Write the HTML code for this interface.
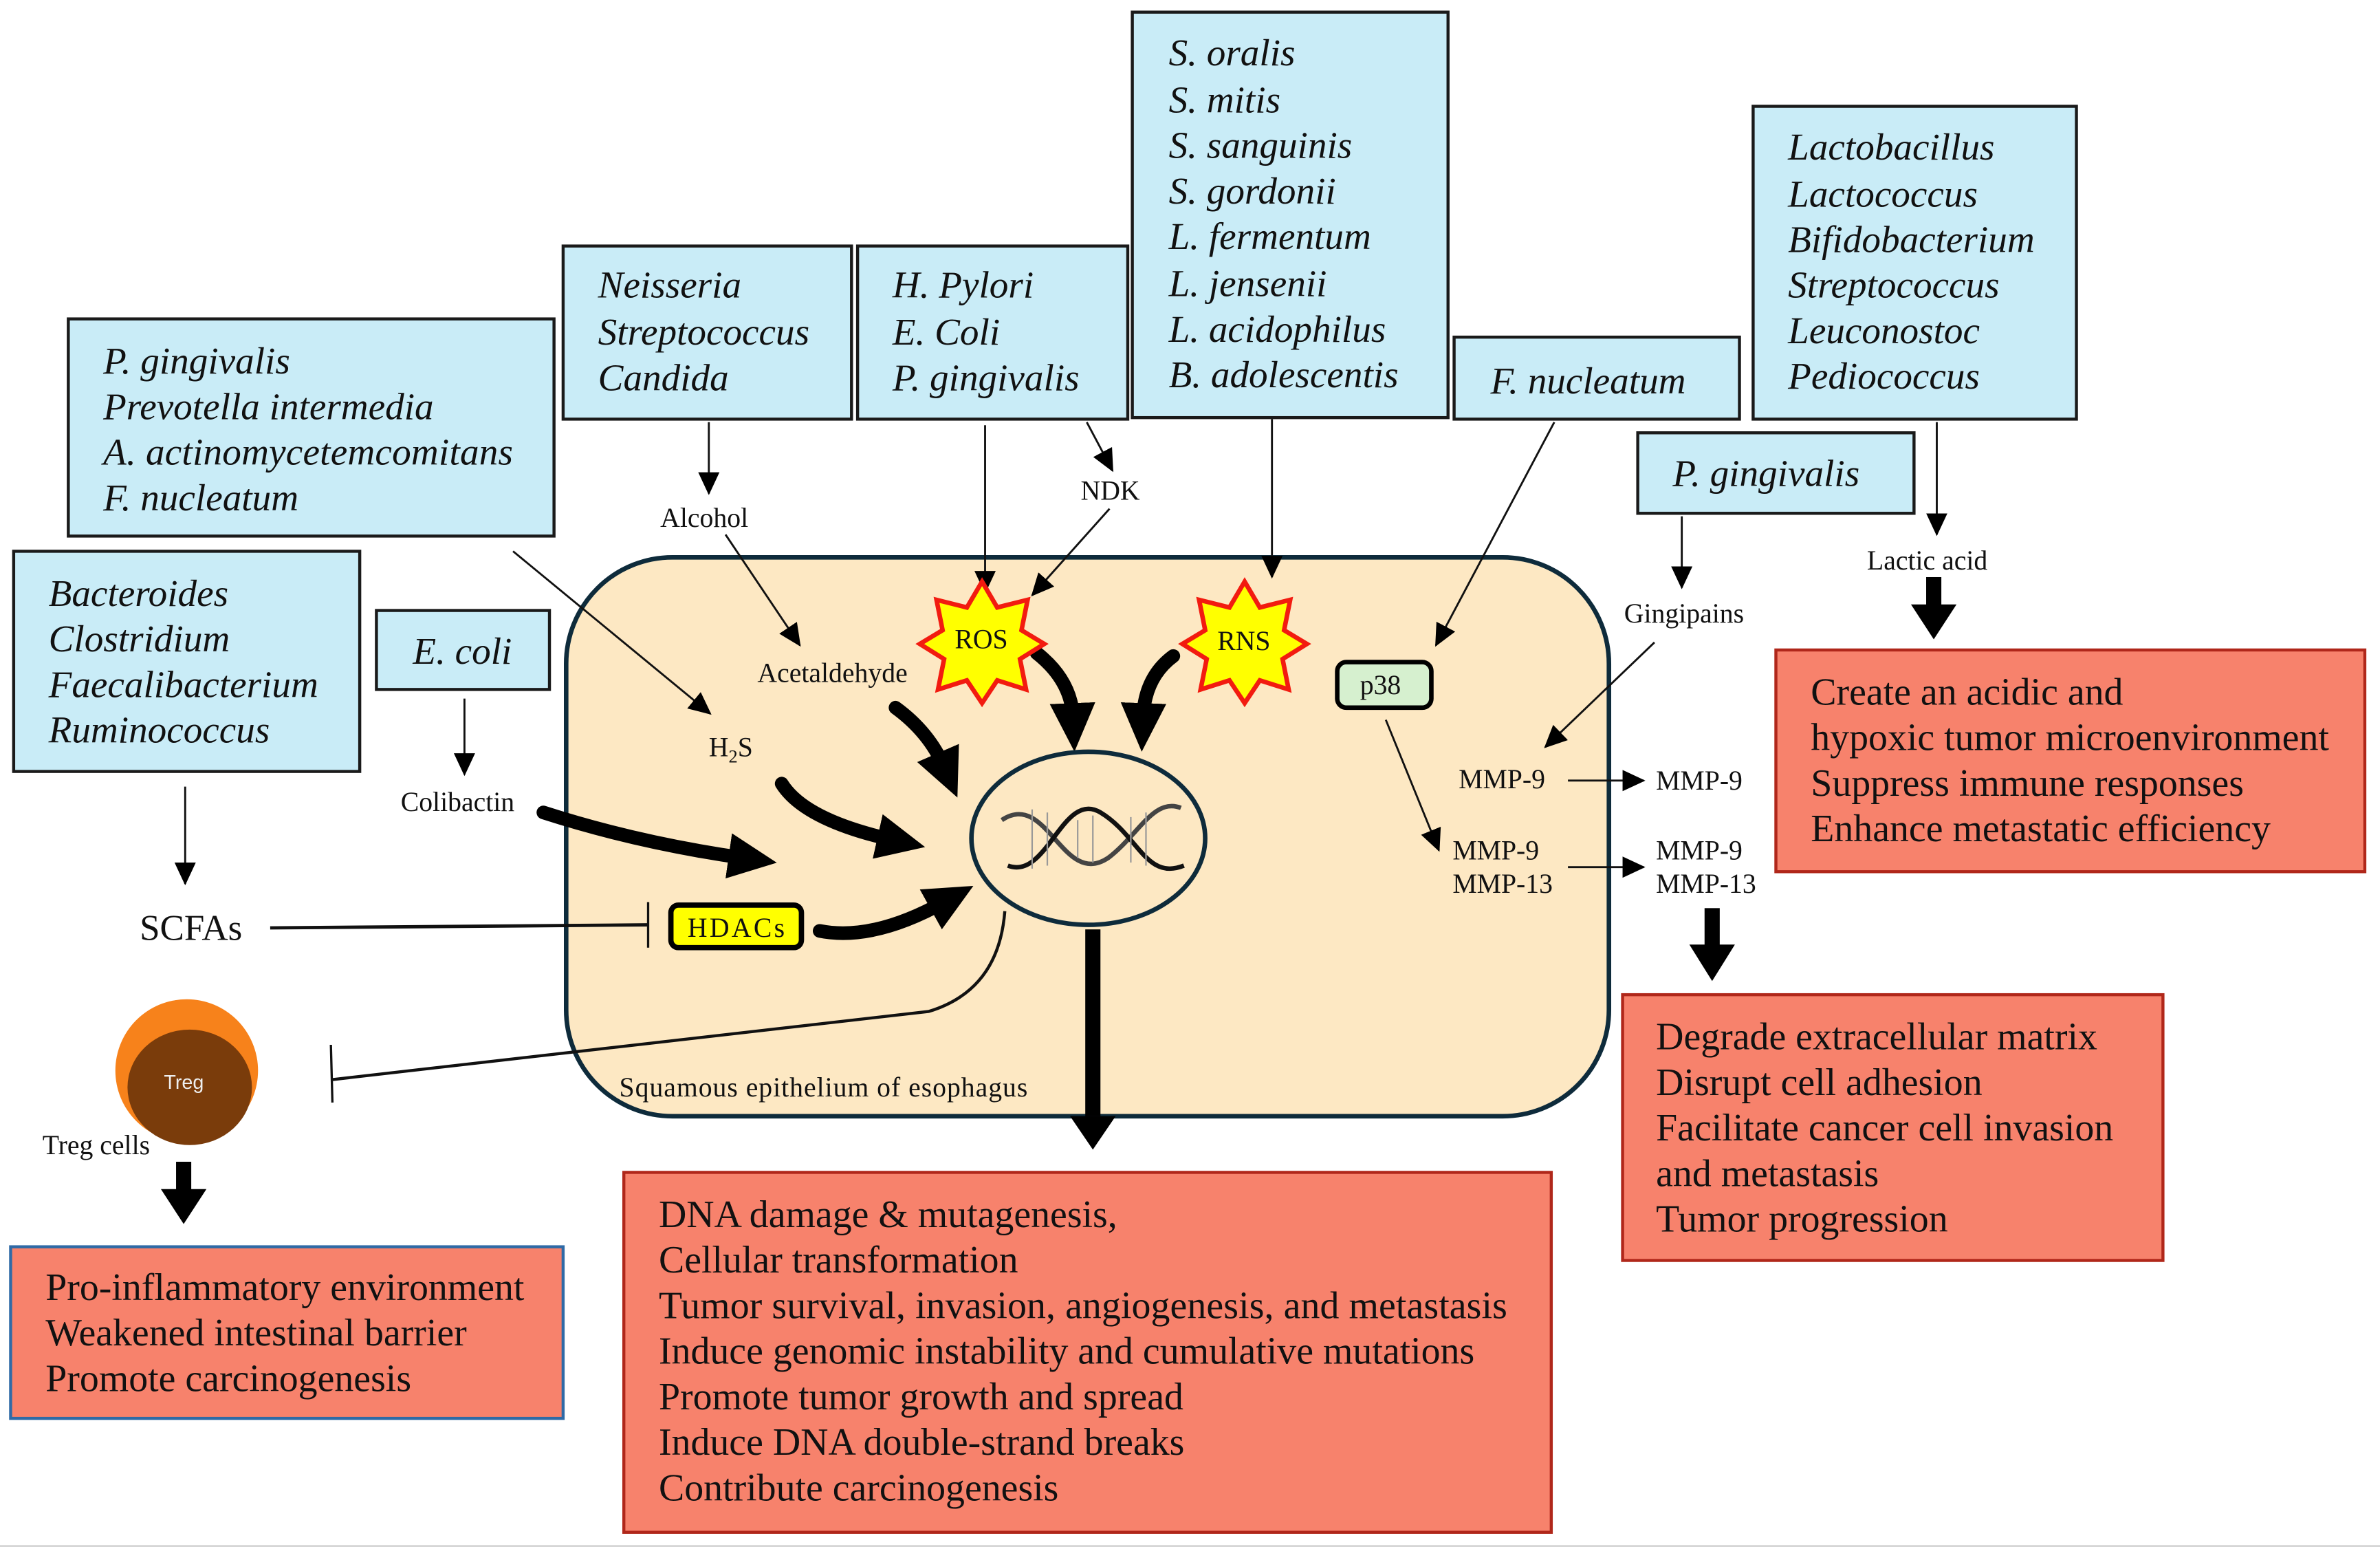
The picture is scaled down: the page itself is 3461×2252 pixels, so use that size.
<!DOCTYPE html>
<html><head><meta charset="utf-8"><style>
html,body{margin:0;padding:0;background:#fff;}
svg{display:block;}
.b{fill:#c9ecf7;stroke:#1a1a1a;stroke-width:2;}
.r{fill:#f7826c;stroke:#b0271a;stroke-width:2;}
.it{font-family:"Liberation Serif",serif;font-style:italic;font-size:25px;fill:#111;}
.rt{font-family:"Liberation Serif",serif;font-size:25.3px;fill:#111;}
.sm{font-family:"Liberation Serif",serif;font-size:18px;fill:#111;}
.t{stroke:#111;stroke-width:1.3;fill:none;}
.k{stroke:#000;stroke-width:9;fill:none;stroke-linecap:round;}
</style></head><body>
<svg width="3461" height="2252" viewBox="0 0 1568 1020" preserveAspectRatio="none" xmlns="http://www.w3.org/2000/svg">
<defs>
<marker id="a" markerUnits="userSpaceOnUse" markerWidth="16" markerHeight="16" refX="14" refY="8" orient="auto"><path d="M0,1 L15,8 L0,15 Z" fill="#000"/></marker>
<marker id="B" markerUnits="userSpaceOnUse" markerWidth="34" markerHeight="34" refX="10" refY="17" orient="auto"><path d="M0,2 L32,17 L0,32 Z" fill="#000"/></marker>
</defs>
<rect width="1568" height="1020" fill="#fff"/>
<line x1="0" y1="1018" x2="1568" y2="1018" stroke="#ccc" stroke-width="1"/>

<rect x="373" y="367" width="687" height="368" rx="70" fill="#fde8c3" stroke="#0e2b3b" stroke-width="3"/>
<text class="sm" x="408" y="722" textLength="269">Squamous epithelium of esophagus</text>

<rect class="b" x="45" y="210" width="320" height="143"/>
<text class="it" x="68" y="246">P. gingivalis</text><text class="it" x="68" y="276">Prevotella intermedia</text><text class="it" x="68" y="306" textLength="270">A. actinomycetemcomitans</text><text class="it" x="68" y="336">F. nucleatum</text>
<rect class="b" x="371" y="162" width="190" height="114"/>
<text class="it" x="394" y="196">Neisseria</text><text class="it" x="394" y="227">Streptococcus</text><text class="it" x="394" y="257">Candida</text>
<rect class="b" x="565" y="162" width="178" height="114"/>
<text class="it" x="588" y="196">H. Pylori</text><text class="it" x="588" y="227">E. Coli</text><text class="it" x="588" y="257">P. gingivalis</text>
<rect class="b" x="746" y="8" width="208" height="267"/>
<text class="it" x="770" y="43">S. oralis</text><text class="it" x="770" y="74">S. mitis</text><text class="it" x="770" y="104">S. sanguinis</text><text class="it" x="770" y="134">S. gordonii</text><text class="it" x="770" y="164">L. fermentum</text><text class="it" x="770" y="195">L. jensenii</text><text class="it" x="770" y="225">L. acidophilus</text><text class="it" x="770" y="255">B. adolescentis</text>
<rect class="b" x="958" y="222" width="188" height="54"/>
<text class="it" x="982" y="259">F. nucleatum</text>
<rect class="b" x="1155" y="70" width="213" height="206"/>
<text class="it" x="1178" y="105">Lactobacillus</text><text class="it" x="1178" y="136">Lactococcus</text><text class="it" x="1178" y="166">Bifidobacterium</text><text class="it" x="1178" y="196">Streptococcus</text><text class="it" x="1178" y="226">Leuconostoc</text><text class="it" x="1178" y="256">Pediococcus</text>
<rect class="b" x="1079" y="285" width="182" height="53"/>
<text class="it" x="1102" y="320">P. gingivalis</text>
<rect class="b" x="9" y="363" width="228" height="145"/>
<text class="it" x="32" y="399">Bacteroides</text><text class="it" x="32" y="429">Clostridium</text><text class="it" x="32" y="459">Faecalibacterium</text><text class="it" x="32" y="489">Ruminococcus</text>
<rect class="b" x="248" y="402" width="114" height="52"/>
<text class="it" x="272" y="437">E. coli</text>

<rect class="r" x="1170" y="428" width="388" height="146"/>
<text class="rt" x="1193" y="464">Create an acidic and</text><text class="rt" x="1193" y="494">hypoxic tumor microenvironment</text><text class="rt" x="1193" y="524">Suppress immune responses</text><text class="rt" x="1193" y="554">Enhance metastatic efficiency</text>
<rect class="r" x="1069" y="655" width="356" height="175"/>
<text class="rt" x="1091" y="691">Degrade extracellular matrix</text><text class="rt" x="1091" y="721">Disrupt cell adhesion</text><text class="rt" x="1091" y="751">Facilitate cancer cell invasion</text><text class="rt" x="1091" y="781">and metastasis</text><text class="rt" x="1091" y="811">Tumor progression</text>
<rect x="7" y="821" width="364" height="113" fill="#f7826c" stroke="#2f6aa6" stroke-width="2"/>
<text class="rt" x="30" y="856">Pro-inflammatory environment</text><text class="rt" x="30" y="886">Weakened intestinal barrier</text><text class="rt" x="30" y="916">Promote carcinogenesis</text>
<rect class="r" x="411" y="772" width="611" height="237"/>
<text class="rt" x="434" y="808">DNA damage &amp; mutagenesis,</text><text class="rt" x="434" y="838">Cellular transformation</text><text class="rt" x="434" y="868" textLength="559">Tumor survival, invasion, angiogenesis, and metastasis</text><text class="rt" x="434" y="898">Induce genomic instability and cumulative mutations</text><text class="rt" x="434" y="928">Promote tumor growth and spread</text><text class="rt" x="434" y="958">Induce DNA double-strand breaks</text><text class="rt" x="434" y="988">Contribute carcinogenesis</text>

<text class="sm" x="435" y="347">Alcohol</text>
<text class="sm" x="712" y="329">NDK</text>
<text class="sm" x="499" y="449">Acetaldehyde</text>
<text class="sm" x="467" y="498">H<tspan font-size="12" dy="4">2</tspan><tspan dy="-4">S</tspan></text>
<text class="sm" x="264" y="534">Colibactin</text>
<text class="sm" x="1070" y="410">Gingipains</text>
<text class="sm" x="1230" y="375">Lactic acid</text>
<text class="sm" x="961" y="519">MMP-9</text>
<text class="sm" x="1091" y="520">MMP-9</text>
<text class="sm" x="957" y="566">MMP-9</text><text class="sm" x="957" y="588">MMP-13</text>
<text class="sm" x="1091" y="566">MMP-9</text><text class="sm" x="1091" y="588">MMP-13</text>
<text class="sm" x="28" y="760">Treg cells</text>
<text font-family="Liberation Serif,serif" font-size="24" x="92" y="619" fill="#111">SCFAs</text>

<line class="t" x1="467" y1="278" x2="467" y2="325" marker-end="url(#a)"/>
<line class="t" x1="649" y1="280" x2="649" y2="390" marker-end="url(#a)"/>
<line class="t" x1="716" y1="278" x2="733" y2="310" marker-end="url(#a)"/>
<line class="t" x1="731" y1="335" x2="680" y2="392" marker-end="url(#a)"/>
<line class="t" x1="478" y1="352" x2="527" y2="425" marker-end="url(#a)"/>
<line class="t" x1="338" y1="363" x2="468" y2="470" marker-end="url(#a)"/>
<line class="t" x1="838" y1="276" x2="838" y2="380" marker-end="url(#a)"/>
<line class="t" x1="1024" y1="278" x2="946" y2="425" marker-end="url(#a)"/>
<line class="t" x1="1108" y1="340" x2="1108" y2="387" marker-end="url(#a)"/>
<line class="t" x1="1090" y1="423" x2="1018" y2="492" marker-end="url(#a)"/>
<line class="t" x1="913" y1="474" x2="948" y2="560" marker-end="url(#a)"/>
<line class="t" x1="1033" y1="514" x2="1083" y2="514" marker-end="url(#a)"/>
<line class="t" x1="1033" y1="571" x2="1083" y2="571" marker-end="url(#a)"/>
<line class="t" x1="1276" y1="278" x2="1276" y2="352" marker-end="url(#a)"/>
<line class="t" x1="306" y1="460" x2="306" y2="510" marker-end="url(#a)"/>
<line class="t" x1="122" y1="518" x2="122" y2="582" marker-end="url(#a)"/>

<line stroke="#111" stroke-width="2.2" x1="178" y1="611" x2="427" y2="609"/>
<line stroke="#111" stroke-width="1.5" x1="427" y1="594" x2="427" y2="624"/>
<path d="M662,600 Q658,652 612,666 L218,711" stroke="#111" stroke-width="2" fill="none"/>
<line stroke="#111" stroke-width="1.5" x1="218" y1="688" x2="219" y2="726"/>

<path class="k" d="M358,535 Q420,555 490,565" marker-end="url(#B)"/>
<path class="k" d="M515,516 Q530,540 588,553" marker-end="url(#B)"/>
<path class="k" d="M590,466 Q612,482 622,505" marker-end="url(#B)"/>
<path class="k" d="M683,430 Q706,448 707,473" marker-end="url(#B)"/>
<path class="k" d="M773,432 Q754,446 753,473" marker-end="url(#B)"/>
<path class="k" d="M540,613 Q575,620 622,594" marker-end="url(#B)"/>

<g fill="#000">
<rect x="715" y="612" width="10" height="123"/><path d="M705,735 L735,735 L720,757 Z"/>
<rect x="1269" y="380" width="10" height="20"/><path d="M1259,398 L1289,398 L1274,421 Z"/>
<rect x="1123" y="598" width="10" height="26"/><path d="M1113,622 L1143,622 L1128,646 Z"/>
<rect x="116" y="765" width="10" height="20"/><path d="M106,783 L136,783 L121,806 Z"/>
</g>

<ellipse cx="717" cy="552" rx="77" ry="57" fill="#fde8c3" stroke="#0e2b3b" stroke-width="3"/>
<g stroke="#444" fill="none" stroke-width="3">
<path d="M660,540 C690,520 700,585 730,565 C750,550 760,525 778,532"/>
<path d="M664,570 C690,580 700,520 725,535 C750,550 755,580 780,570" stroke="#111"/>
</g>
<g stroke="#999" stroke-width="1"><line x1="680" y1="533" x2="680" y2="572"/><line x1="690" y1="535" x2="690" y2="570"/><line x1="710" y1="540" x2="710" y2="565"/><line x1="720" y1="537" x2="720" y2="568"/><line x1="745" y1="538" x2="745" y2="568"/><line x1="755" y1="535" x2="755" y2="570"/></g>

<polygon points="647,383 657,400 677,395 673,415 688,424 672,434 676,454 657,448 647,463 637,448 618,454 622,434 606,424 621,415 617,395 637,400" fill="#ffff00" stroke="#f21b10" stroke-width="3"/>
<text class="sm" x="629" y="427">ROS</text>
<polygon points="820,383 830,400 850,395 846,415 861,424 845,434 849,454 830,448 820,463 810,448 791,454 795,434 779,424 794,415 790,395 810,400" fill="#ffff00" stroke="#f21b10" stroke-width="3"/>
<text class="sm" x="802" y="428">RNS</text>

<rect x="881" y="436" width="62" height="30" rx="6" fill="#d6f0cf" stroke="#000" stroke-width="3"/>
<text class="sm" x="896" y="457">p38</text>
<rect x="442" y="596" width="86" height="28" rx="5" fill="#ffff00" stroke="#000" stroke-width="3.5"/>
<text class="sm" x="453" y="617" textLength="64">HDACs</text>

<ellipse cx="123" cy="705" rx="47" ry="47" fill="#f7821b"/>
<ellipse cx="125" cy="716" rx="41" ry="38" fill="#7a3c0b"/>
<text x="108" y="717" font-family="Liberation Sans,sans-serif" font-size="13" fill="#eee">Treg</text>
</svg>
</body></html>
